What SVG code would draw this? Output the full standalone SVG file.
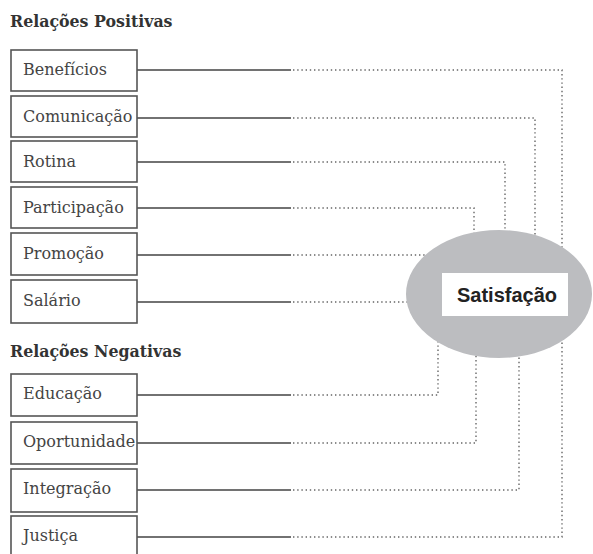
<svg xmlns="http://www.w3.org/2000/svg" width="593" height="554" viewBox="0 0 593 554">
<style>
.title{font-family:"DejaVu Serif","Liberation Serif",serif;font-weight:bold;font-size:15.8px;fill:#333}
.box rect{fill:#fff;stroke:#555;stroke-width:1.6}
.box text{font-family:"DejaVu Serif","Liberation Serif",serif;font-size:16px;fill:#444}
.solid{stroke:#444;stroke-width:1.5;fill:none}
.dot{stroke:#666;stroke-width:1.4;fill:none;stroke-dasharray:1.4 2.8}
.center text{font-family:"Liberation Sans",Arial,sans-serif;font-weight:bold;font-size:20px;fill:#222}
</style>
<rect width="593" height="554" fill="#fff"/>
<text class="title" x="10" y="27">Relações Positivas</text>
<text class="title" x="10" y="357">Relações Negativas</text>
<g id="connectors">
<path class="solid" d="M137 70H291M137 118H291M137 162H291M137 208H291M137 255H291M137 302H291M137 395H291M137 443H291M137 490H291M137 537H291"/>
<path class="dot" d="M293 70H562V300"/>
<path class="dot" d="M293 118H535V300"/>
<path class="dot" d="M293 162H505V300"/>
<path class="dot" d="M293 208H474V300"/>
<path class="dot" d="M293 255H440"/>
<path class="dot" d="M293 302H420"/>
<path class="dot" d="M293 395H438V300"/>
<path class="dot" d="M293 443H476V300"/>
<path class="dot" d="M293 490H519V300"/>
<path class="dot" d="M293 537H562V300"/>
</g>
<g id="satisfacao" class="center">
<ellipse cx="499" cy="294" rx="93" ry="64" fill="#bcbdc0"/>
<rect x="442" y="273" width="126" height="43" fill="#fff"/>
<text x="507" y="302" text-anchor="middle">Satisfação</text>
</g>
<g id="beneficios" class="box"><rect x="11" y="50" width="126" height="41"/><text x="23" y="75">Benefícios</text></g>
<g id="comunicacao" class="box"><rect x="11" y="96" width="126" height="41"/><text x="23" y="122">Comunicação</text></g>
<g id="rotina" class="box"><rect x="11" y="141" width="126" height="41"/><text x="23" y="167">Rotina</text></g>
<g id="participacao" class="box"><rect x="11" y="187" width="126" height="41"/><text x="23" y="213">Participação</text></g>
<g id="promocao" class="box"><rect x="11" y="233" width="126" height="42"/><text x="23" y="259">Promoção</text></g>
<g id="salario" class="box"><rect x="11" y="280" width="126" height="43"/><text x="23" y="306">Salário</text></g>
<g id="educacao" class="box"><rect x="11" y="374" width="126" height="42"/><text x="23" y="399">Educação</text></g>
<g id="oportunidade" class="box"><rect x="11" y="422" width="126" height="42"/><text x="23" y="447">Oportunidade</text></g>
<g id="integracao" class="box"><rect x="11" y="469" width="126" height="43"/><text x="23" y="494">Integração</text></g>
<g id="justica" class="box"><rect x="11" y="516" width="126" height="44"/><text x="23" y="541">Justiça</text></g>
</svg>
